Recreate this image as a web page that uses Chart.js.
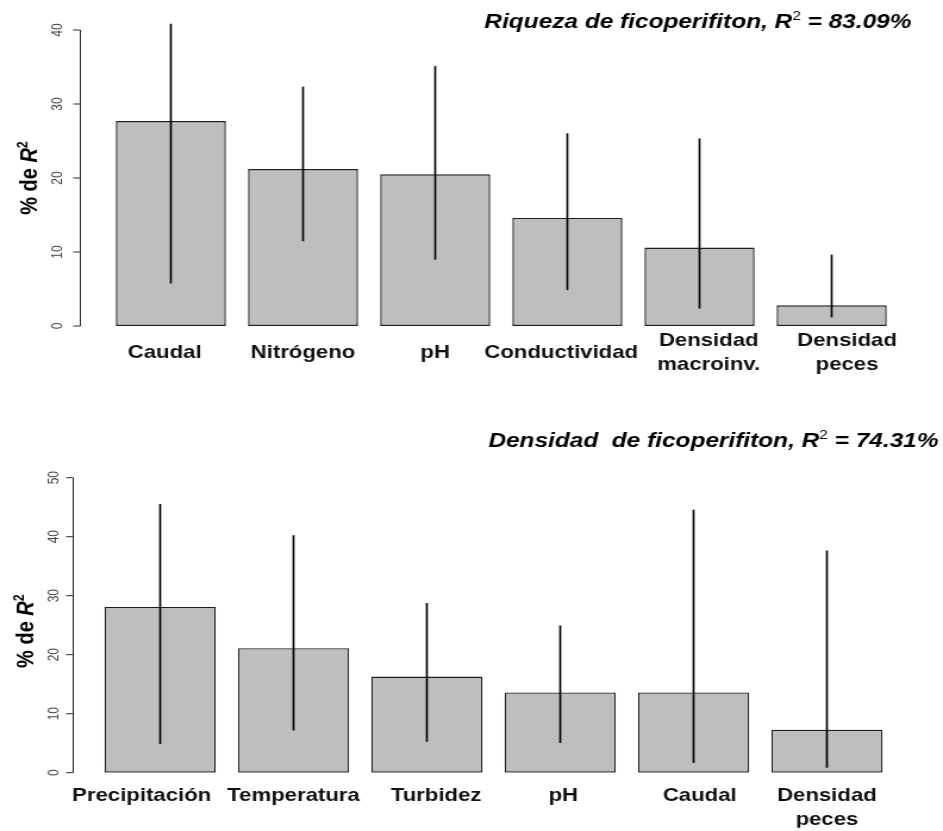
<!DOCTYPE html>
<html>
<head>
<meta charset="utf-8">
<script src="https://cdn.jsdelivr.net/npm/chart.js@4.4.0/dist/chart.umd.min.js"></script>
<style>
  html, body { margin: 0; padding: 0; background: #fff; }
  canvas { display: block; }
</style>
</head>
<body>
<!-- drawn narrow and widened by CSS so the type comes out broad, like the exported figure -->
<canvas id="riqueza" width="792" height="415" style="width:943px;height:415px"></canvas>
<canvas id="densidad" width="792" height="416" style="width:943px;height:416px"></canvas>
<script>
// Riqueza de ficoperifiton: % of R2 per variable, with interval
const riquezaLabels = ['Caudal', 'Nitrógeno', 'pH', 'Conductividad', ['Densidad', 'macroinv.'], ['Densidad', 'peces']];
const riquezaPct = [27.7, 21.2, 20.5, 14.6, 10.6, 2.8];
const riquezaLow = [5.8, 11.5, 9.0, 4.9, 2.4, 1.2];
const riquezaHigh = [40.8, 32.3, 35.1, 26.0, 25.3, 9.6];
const riquezaTicks = [0, 10, 20, 30, 40];
const riquezaTitle = ['Riqueza de ficoperifiton, R', '2', ' = 83.09%'];

// Densidad de ficoperifiton
const densidadLabels = ['Precipitación', 'Temperatura', 'Turbidez', 'pH', 'Caudal', ['Densidad', 'peces']];
const densidadPct = [28.1, 21.1, 16.3, 13.6, 13.6, 7.3];
const densidadLow = [4.9, 7.2, 5.3, 5.1, 1.7, 0.9];
const densidadHigh = [45.5, 40.2, 28.7, 24.9, 44.5, 37.6];
const densidadTicks = [0, 10, 20, 30, 40, 50];
const densidadTitle = ['Densidad  de ficoperifiton, R', '2', ' = 74.31%'];

const FAMILY = '"Liberation Sans", Arial, Helvetica, sans-serif';

// draws a run of text pieces (for the R² bits) starting at x
function drawRich(ctx, parts, x, y, align) {
  const widths = parts.map(p => { ctx.font = p.font; return ctx.measureText(p.text).width; });
  const total = widths.reduce((a, b) => a + b, 0);
  let cx = align === 'right' ? x - total : align === 'center' ? x - total / 2 : x;
  ctx.textAlign = 'left';
  parts.forEach((p, i) => {
    ctx.font = p.font;
    ctx.fillText(p.text, cx, y + (p.dy || 0));
    cx += widths[i];
  });
  return total;
}

// R-style left axis (only spans the tick range), rotated tick labels, axis title and main title
const axisDecor = {
  id: 'axisDecor',
  afterDraw(chart, args, o) {
    const { ctx, chartArea } = chart;
    const y = chart.scales.y;
    const axisX = chartArea.left - o.axisGap;
    const ticks = o.ticks;
    ctx.save();

    ctx.strokeStyle = '#2a2a2a';
    ctx.lineWidth = 1;
    ctx.beginPath();
    ctx.moveTo(axisX, y.getPixelForValue(ticks[0]));
    ctx.lineTo(axisX, y.getPixelForValue(ticks[ticks.length - 1]));
    ticks.forEach(v => {
      const py = y.getPixelForValue(v);
      ctx.moveTo(axisX - 6, py);
      ctx.lineTo(axisX, py);
    });
    ctx.stroke();

    ctx.fillStyle = '#444';
    ctx.font = '12px ' + FAMILY;
    ctx.textAlign = 'center';
    ctx.textBaseline = 'middle';
    ticks.forEach(v => {
      ctx.save();
      ctx.translate(axisX - o.tickLabelGap, y.getPixelForValue(v));
      ctx.rotate(-Math.PI / 2);
      ctx.fillText(String(v), 0, 0);
      ctx.restore();
    });

    // "% de R2" along the axis
    ctx.fillStyle = '#000';
    ctx.textBaseline = 'alphabetic';
    ctx.save();
    ctx.translate(axisX - o.axisTitleGap, y.getPixelForValue(o.axisTitleAt));
    ctx.rotate(-Math.PI / 2);
    drawRich(ctx, [
      { text: '% de ', font: 'bold 20px ' + FAMILY },
      { text: 'R', font: 'italic bold 20px ' + FAMILY },
      { text: '2', font: 'bold 12.5px ' + FAMILY, dy: -8 }
    ], 0, 0, 'center');
    ctx.restore();

    // main title, right aligned
    drawRich(ctx, [
      { text: o.title[0], font: 'italic bold 20.5px ' + FAMILY },
      { text: o.title[1], font: '13px ' + FAMILY, dy: -8 },
      { text: o.title[2], font: 'italic bold 20.5px ' + FAMILY }
    ], o.titleRight, o.titleBaseline, 'right');

    ctx.restore();
  }
};

// pads a label with spaces so it sits a little left (n < 0) or right (n > 0) of its bar
function nudge(label, n) {
  const pad = ' '.repeat(Math.abs(n));
  const one = s => (n > 0 ? pad + s : s + pad);
  return Array.isArray(label) ? label.map(one) : one(label);
}

function buildChart(id, cfg) {
  return new Chart(document.getElementById(id), {
    type: 'bar',
    data: {
      labels: cfg.labels,
      datasets: [
        {
          // interval lines
          data: cfg.low.map((v, i) => [v, cfg.high[i]]),
          backgroundColor: '#000',
          borderWidth: 0,
          barThickness: 1,
          grouped: false,
          order: 0
        },
        {
          data: cfg.values,
          backgroundColor: '#bebebe',
          borderColor: '#1e1e1e',
          borderWidth: 1.4,
          borderSkipped: false,
          grouped: false,
          categoryPercentage: 1,
          barPercentage: 0.833,
          order: 1
        }
      ]
    },
    options: {
      responsive: false,
      animation: false,
      devicePixelRatio: 1,
      layout: { padding: cfg.padding },
      plugins: {
        legend: { display: false },
        tooltip: { enabled: false },
        axisDecor: cfg.decor
      },
      scales: {
        x: {
          grid: { display: false, drawTicks: false },
          border: { display: false },
          ticks: {
            color: '#111',
            font: { family: FAMILY, size: 18.6, weight: 'bold', lineHeight: 1.3 },
            padding: cfg.labelPad,
            crossAlign: cfg.crossAlign,
            minRotation: 0,
            maxRotation: 0,
            autoSkip: false,
            callback: (v, i) => nudge(cfg.labels[i], cfg.labelNudge[i])
          },
          afterFit: s => { s.height = cfg.xAxisHeight; }
        },
        y: {
          min: 0,
          max: cfg.yMax,
          grid: { display: false, drawTicks: false },
          border: { display: false },
          ticks: { display: false },
          afterFit: s => { s.width = cfg.yAxisWidth; }
        }
      }
    },
    plugins: [axisDecor]
  });
}

// category slots of a whole pixel width keep the thin interval lines sharp
buildChart('riqueza', {
  labels: riquezaLabels,
  values: riquezaPct,
  low: riquezaLow,
  high: riquezaHigh,
  yMax: 41.5,
  padding: { top: 18.9, left: 0, right: 38, bottom: 29 },
  yAxisWidth: 88,
  xAxisHeight: 60,
  labelPad: 15,
  crossAlign: 'center',
  labelNudge: [-2, 0, 0, -2, 3, 5],
  decor: {
    ticks: riquezaTicks,
    axisGap: 20.5,
    tickLabelGap: 18.5,
    axisTitleGap: 36.2,
    axisTitleAt: 20,
    title: riquezaTitle,
    titleRight: 765.5,
    titleBaseline: 28
  }
});

buildChart('densidad', {
  labels: densidadLabels,
  values: densidadPct,
  low: densidadLow,
  high: densidadHigh,
  yMax: 50,
  padding: { top: 62.7, left: 0, right: 41.5, bottom: 3.3 },
  yAxisWidth: 78.5,
  xAxisHeight: 55,
  labelPad: 10.7,
  crossAlign: 'near',
  labelNudge: [-6, 0, 3, 1, 2, 0],
  decor: {
    ticks: densidadTicks,
    axisGap: 17,
    tickLabelGap: 15.6,
    axisTitleGap: 33.3,
    axisTitleAt: 24,
    title: densidadTitle,
    titleRight: 788.2,
    titleBaseline: 32
  }
});
</script>
</body>
</html>
